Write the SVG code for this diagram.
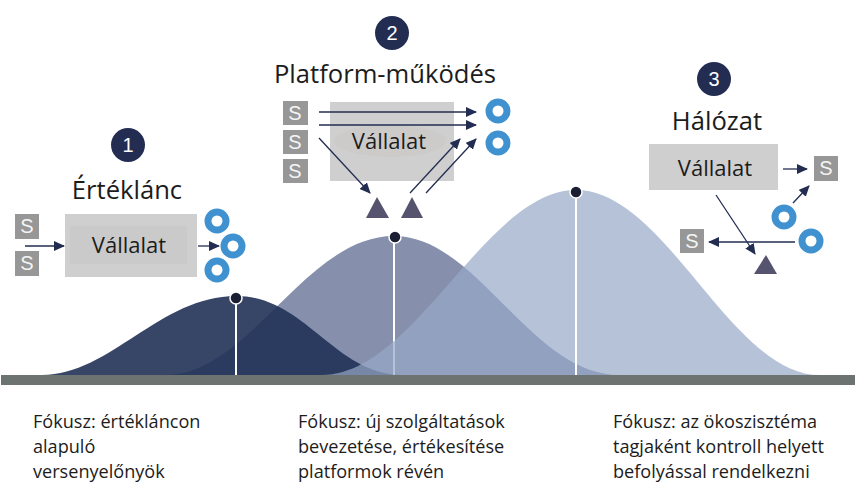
<svg xmlns="http://www.w3.org/2000/svg" width="856" height="493" viewBox="0 0 856 493">
<style>
text{font-family:"Open Sans","Noto Sans","Liberation Sans",sans-serif;fill:#1c1c1c}
.t{font-size:25.6px;text-anchor:middle}
.v{font-size:22px;text-anchor:middle}
.f{font-size:18.1px}
.n{font-family:"Liberation Sans",sans-serif;font-size:20px;fill:#fff;text-anchor:middle}
.b{fill:#232d52}
.s rect{fill:#979797}
.s text{font-family:"Liberation Sans",sans-serif;font-size:20px;fill:#f4f4f4;text-anchor:middle}
.box{fill:#d0cfcf}
.o{fill:#fff;stroke:#3f91d0;stroke-width:7}
.tri{fill:#56536f}
.l{stroke:#232d52;stroke-width:1.3;fill:none;marker-end:url(#a)}
.vline{stroke:#fff;stroke-width:2}
.dot{fill:#1b1f33;stroke:#fff;stroke-width:1.5}
</style>
<defs>
<marker id="a" markerUnits="userSpaceOnUse" markerWidth="12" markerHeight="12" refX="10" refY="5" orient="auto"><path d="M0 0L11 5L0 10z" fill="#232d52"/></marker>
</defs>
<rect width="856" height="493" fill="#fff"/>
<g id="curves">
<path d="M165 375C250 375 305 236 394 236C478 236 530 375 620 375Z" fill="#8690ad"/>
<path d="M42 375C110 375 160 296 236 296C305 296 335 375 402 375Z" fill="#213256" fill-opacity=".9"/>
<line class="vline" x1="236" y1="298" x2="236" y2="375"/>
<line class="vline" x1="394" y1="238" x2="394" y2="375"/>
<path d="M322 375C415 375 486 190 576 190C666 190 730 375 820 375Z" fill="#97a8c7" fill-opacity=".7"/>
<rect id="baseline" x="1" y="375" width="854" height="10" fill="#6c7371"/>
<line class="vline" x1="576" y1="192" x2="576" y2="375"/>
<circle class="dot" cx="236" cy="298" r="6"/>
<circle class="dot" cx="395" cy="237" r="6"/>
<circle class="dot" cx="576" cy="192" r="6"/>
</g>
<g id="node-1">
<circle class="b" cx="128" cy="145" r="17"/><text class="n" x="128" y="152">1</text>
<text class="t" x="127" y="199">Értéklánc</text>
<rect class="box" x="65" y="214" width="132" height="63"/>
<rect x="70" y="226" width="117" height="38" fill="#cbcaca"/>
<text class="v" x="129" y="253">Vállalat</text>
<g class="s"><rect x="15" y="214" width="24" height="25"/><text x="27" y="233">S</text></g>
<g class="s"><rect x="15" y="251" width="24" height="25"/><text x="27" y="270">S</text></g>
<circle class="o" cx="217" cy="221" r="9"/><circle class="o" cx="233" cy="246" r="9"/><circle class="o" cx="217" cy="270" r="9"/>
</g>
<g id="node-2">
<circle class="b" cx="392" cy="33" r="17"/><text class="n" x="392" y="40">2</text>
<text class="t" x="385" y="83">Platform-működés</text>
<rect class="box" x="330" y="102" width="124" height="79"/>
<ellipse cx="390" cy="141" rx="56" ry="16" fill="#cdcbca"/>
<text class="v" x="389" y="149">Vállalat</text>
<g class="s"><rect x="283" y="101" width="25" height="24"/><text x="295" y="120">S</text></g>
<g class="s"><rect x="283" y="130" width="25" height="24"/><text x="295" y="149">S</text></g>
<g class="s"><rect x="283" y="159" width="25" height="24"/><text x="295" y="178">S</text></g>
<circle class="o" cx="498" cy="111" r="9"/><circle class="o" cx="498" cy="143" r="9"/>
<path class="tri" d="M366 218L377 197L389 218Z"/><path class="tri" d="M401 218L412 197L423 218Z"/>
</g>
<g id="node-3">
<circle class="b" cx="714" cy="79" r="17"/><text class="n" x="714" y="86">3</text>
<text class="t" x="717" y="130">Hálózat</text>
<rect class="box" x="649" y="144" width="129" height="46"/>
<text class="v" x="715" y="176">Vállalat</text>
<g class="s"><rect x="814" y="156" width="24" height="25"/><text x="826" y="175">S</text></g>
<g class="s"><rect x="680" y="229" width="24" height="24"/><text x="692" y="248">S</text></g>
<circle class="o" cx="784" cy="217" r="9"/><circle class="o" cx="811" cy="241" r="9"/>
<path class="tri" d="M754 274L766 255L777 274Z"/>
</g>
<g id="connectors">
<path class="l" d="M25 246H64"/><path class="l" d="M198 246H219"/>
<path class="l" d="M319 112H476"/><path class="l" d="M319 125H476"/>
<path class="l" d="M319 138L370 193"/><path class="l" d="M410 193L460 139"/><path class="l" d="M426 193L476 139"/>
<path class="l" d="M783 169H807"/><path class="l" d="M793 203L809 186"/>
<path class="l" d="M795 242H709"/><path class="l" d="M716 195L755 254"/>
</g>
<g id="captions">
<text class="f" x="33" y="428">Fókusz: értékláncon</text><text class="f" x="33" y="453">alapuló</text><text class="f" x="33" y="478">versenyelőnyök</text>
<text class="f" x="298" y="428">Fókusz: új szolgáltatások</text><text class="f" x="298" y="453">bevezetése, értékesítése</text><text class="f" x="298" y="478">platformok révén</text>
<text class="f" x="613" y="428">Fókusz: az ökoszisztéma</text><text class="f" x="613" y="453">tagjaként kontroll helyett</text><text class="f" x="613" y="478">befolyással rendelkezni</text>
</g>
</svg>
